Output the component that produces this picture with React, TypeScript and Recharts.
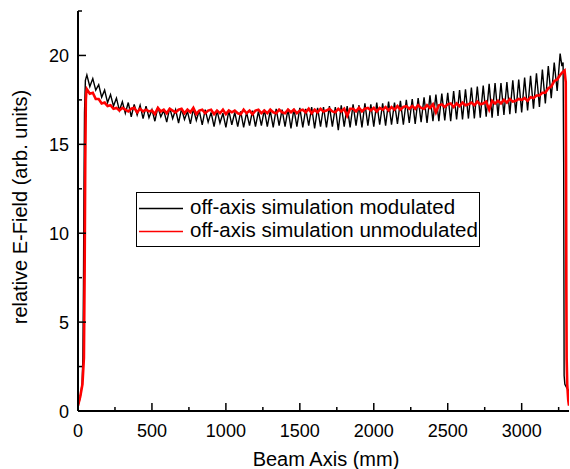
import React from "react";
import { LineChart, Line, XAxis, YAxis, Legend } from "recharts";

const FONT = '"Liberation Sans", Arial, sans-serif';

const MODULATED = "off-axis simulation modulated";
const UNMODULATED = "off-axis simulation unmodulated";
const seriesColor: Record<string, string> = { [MODULATED]: "#000000", [UNMODULATED]: "#ff0000" };

// axis ticks (minor every 250 mm / 2.5 units, labelled every 500 / 5)
const xTicks = [0, 250, 500, 750, 1000, 1250, 1500, 1750, 2000, 2250, 2500, 2750, 3000, 3250];
const yTicks = [0, 2.5, 5, 7.5, 10, 12.5, 15, 17.5, 20, 22.5];

// modulated structure: rising edge, body sampled every 20 mm from 60 mm, falling edge
const blackRiseX = [0, 10, 20, 28, 33, 37, 40, 44, 50];
const blackRise = [0.3, 0.6, 1.0, 1.6, 3.0, 7.0, 12.0, 16.8, 18.6];
const bodyStart = 60;
const bodyStep = 20;
const blackBody = [
  18.9, 18.25, 18.7, 18.05, 18.35, 17.65, 18.05, 17.35, 17.8, 17.15,
  17.6, 16.9, 17.4, 16.75, 17.35, 16.55, 17.25, 16.65, 17.2, 16.45,
  17.15, 16.5, 16.95, 16.3, 17.1, 16.55, 16.9, 16.25, 17.05, 16.45,
  16.95, 16.2, 17.0, 16.4, 16.85, 16.15, 17.0, 16.35, 16.9, 16.1,
  16.95, 16.25, 16.8, 16.0, 16.9, 16.2, 16.75, 15.95, 16.9, 16.1,
  16.8, 16.0, 16.85, 15.95, 16.8, 16.05, 16.9, 16.0, 16.85, 16.05,
  16.95, 16.0, 16.9, 15.95, 17.0, 16.05, 16.95, 16.0, 17.0, 15.9,
  17.0, 16.0, 17.05, 15.95, 17.0, 16.05, 17.1, 15.9, 17.05, 16.0,
  17.1, 15.95, 17.15, 16.0, 17.1, 15.8, 17.2, 16.0, 17.15, 15.95,
  17.25, 16.05, 17.2, 15.95, 17.3, 16.05, 17.25, 16.0, 17.35, 16.1,
  17.3, 16.05, 17.4, 16.1, 17.35, 16.15, 17.45, 16.1, 17.5, 16.2,
  17.55, 16.15, 17.6, 16.25, 17.65, 16.2, 17.75, 16.3, 17.8, 16.3,
  17.85, 16.35, 17.9, 16.3, 18.0, 16.4, 18.05, 16.4, 18.1, 16.45,
  18.2, 16.45, 18.25, 16.5, 18.3, 16.55, 18.4, 16.5, 18.45, 16.6,
  18.45, 16.65, 18.5, 16.7, 18.6, 16.75, 18.65, 16.8, 18.75, 16.9,
  18.85, 17.0, 19.0, 17.1, 19.2, 17.3, 19.4, 17.6, 19.6, 18.0,
  20.1,
];
const blackFallX = [3272, 3280, 3284, 3287, 3292, 3305, 3320];
const blackFall = [19.4, 19.6, 14.0, 2.0, 1.5, 1.3, 1.1];

// unmodulated structure
const redRiseX = [0, 15, 30, 40, 45, 49, 53, 56];
const redRise = [0.3, 0.8, 1.5, 3.0, 8.0, 14.0, 17.5, 17.9];
const redBody = [
  18.1, 17.85, 17.9, 17.55, 17.55, 17.3, 17.35, 17.15, 17.2, 17.0,
  17.05, 16.9, 17.05, 16.95, 16.85, 17.0, 17.05, 16.8, 17.0, 16.85,
  16.95, 16.85, 16.9, 16.7, 17.05, 16.85, 16.95, 16.75, 17.0, 16.9,
  16.8, 16.95, 17.0, 16.75, 16.95, 16.8, 17.05, 16.7, 16.9, 16.95,
  16.75, 16.9, 16.95, 16.7, 16.9, 16.75, 16.95, 16.7, 16.9, 16.8,
  16.9, 16.75, 16.7, 16.95, 16.75, 16.9, 16.7, 16.9, 16.95, 16.75,
  16.9, 16.75, 16.95, 16.8, 16.75, 16.95, 16.8, 16.75, 16.95, 16.8,
  16.95, 16.75, 16.9, 16.95, 16.8, 17.0, 16.75, 16.95, 16.8, 17.0,
  16.85, 16.9, 17.0, 16.85, 16.8, 17.0, 16.85, 17.0, 16.6, 17.0,
  17.0, 16.85, 17.05, 16.85, 17.0, 17.05, 16.9, 17.05, 16.85, 17.05,
  16.95, 17.1, 16.9, 17.1, 16.95, 17.15, 16.95, 17.1, 17.15, 17.0,
  17.15, 17.0, 17.2, 17.05, 17.0, 17.2, 17.05, 17.25, 16.8, 17.2,
  17.25, 17.1, 17.25, 17.3, 17.1, 17.3, 17.15, 17.35, 17.2, 17.25,
  17.35, 17.2, 17.4, 17.25, 17.3, 17.4, 16.95, 17.45, 17.3, 17.45,
  17.3, 17.5, 17.35, 17.55, 17.4, 17.45, 17.55, 17.5, 17.6, 17.45,
  17.65, 17.6, 17.75, 17.75, 17.9, 17.9, 18.15, 18.25, 18.55, 18.65,
  18.9,
];
const redFallX = [3275, 3290, 3298, 3300, 3302, 3304, 3308, 3315, 3320];
const redFall = [19.05, 19.15, 18.5, 14.0, 7.0, 3.0, 1.5, 0.6, 0.3];

const pts = (xs: number[], ys: number[]) => xs.map((x, i) => ({ x, y: ys[i] }));
const body = (ys: number[]) => ys.map((y, i) => ({ x: bodyStart + i * bodyStep, y }));

const modulated = [...pts(blackRiseX, blackRise), ...body(blackBody), ...pts(blackFallX, blackFall)];
const unmodulated = [...pts(redRiseX, redRise), ...body(redBody), ...pts(redFallX, redFall)];

const TW = 1.5;

function BottomTick(p: any) {
  const v = p.payload.value;
  const major = v % 500 === 0;
  const ay = p.y - 26;
  return (
    <g>
      <line x1={p.x} x2={p.x} y1={ay} y2={ay - (major ? 8 : 4)} stroke="#000" strokeWidth={TW} />
      {major && (
        <text x={p.x} y={p.y} textAnchor="middle" fontSize={18} fontFamily={FONT} fill="#000">
          {v}
        </text>
      )}
    </g>
  );
}

function TopTick(p: any) {
  const major = p.payload.value % 500 === 0;
  return <line x1={p.x} x2={p.x} y1={p.y} y2={p.y + (major ? 8 : 4)} stroke="#000" strokeWidth={TW} />;
}

function LeftTick(p: any) {
  const v = p.payload.value;
  const major = v % 5 === 0;
  const ax = p.x + 9;
  return (
    <g>
      <line x1={ax} x2={ax + (major ? 8 : 4)} y1={p.y} y2={p.y} stroke="#000" strokeWidth={TW} />
      {major && (
        <text x={p.x} y={p.y} dy={6.5} textAnchor="end" fontSize={18} fontFamily={FONT} fill="#000">
          {v}
        </text>
      )}
    </g>
  );
}

function RightTick(p: any) {
  const major = p.payload.value % 5 === 0;
  return <line x1={p.x} x2={p.x - (major ? 8 : 4)} y1={p.y} y2={p.y} stroke="#000" strokeWidth={TW} />;
}

function LegendBox({ payload }: any) {
  return (
    <div
      style={{
        position: "relative",
        width: 344,
        height: 55,
        boxSizing: "border-box",
        border: "1px solid #000",
        background: "#fff",
        fontFamily: FONT,
        fontSize: 20.5,
        color: "#000",
      }}
    >
      {(payload || []).map((e: any, i: number) => {
        const c = seriesColor[e.value] || e.color || (i ? "#ff0000" : "#000000");
        return (
          <div key={i} style={{ position: "absolute", left: 0, top: i === 0 ? 3 : 26, height: 22, width: 340 }}>
            <svg width={48} height={22} style={{ position: "absolute", left: 0, top: 0 }}>
              <line x1={2} x2={46} y1={12.5} y2={12.5} stroke={c} strokeWidth={1.5} />
            </svg>
            <div style={{ position: "absolute", left: 53, top: 0, lineHeight: "22px", whiteSpace: "nowrap" }}>
              {e.value}
            </div>
          </div>
        );
      })}
    </div>
  );
}

export default function App() {
  return (
    <div style={{ position: "absolute", left: 0, top: 0, width: 570, height: 469, background: "#fff" }}>
      <LineChart width={570} height={469} margin={{ top: 11, right: 1, left: 0, bottom: 0 }}>
        <XAxis
          xAxisId="bottom"
          dataKey="x"
          type="number"
          domain={[0, 3320]}
          ticks={xTicks}
          interval={0}
          allowDataOverflow
          height={58}
          tickSize={0}
          tickMargin={26}
          tick={(p: any) => <BottomTick {...p} />}
          axisLine={{ stroke: "#000", strokeWidth: 2 }}
          tickLine={false}
        />
        <XAxis
          xAxisId="top"
          orientation="top"
          dataKey="x"
          type="number"
          domain={[0, 3320]}
          ticks={xTicks}
          interval={0}
          allowDataOverflow
          height={0}
          tickSize={0}
          tickMargin={0}
          tick={(p: any) => <TopTick {...p} />}
          axisLine={{ stroke: "#000", strokeWidth: 2 }}
          tickLine={false}
        />
        <YAxis
          yAxisId="left"
          type="number"
          domain={[0, 22.5]}
          ticks={yTicks}
          interval={0}
          allowDataOverflow
          width={78}
          tickSize={0}
          tickMargin={9}
          tick={(p: any) => <LeftTick {...p} />}
          axisLine={{ stroke: "#000", strokeWidth: 2 }}
          tickLine={false}
        />
        <YAxis
          yAxisId="right"
          orientation="right"
          type="number"
          domain={[0, 22.5]}
          ticks={yTicks}
          interval={0}
          allowDataOverflow
          width={0}
          tickSize={0}
          tickMargin={0}
          tick={(p: any) => <RightTick {...p} />}
          axisLine={{ stroke: "#000", strokeWidth: 2 }}
          tickLine={false}
        />
        <Legend
          layout="vertical"
          align="center"
          verticalAlign="middle"
          content={(props: any) => <LegendBox {...props} />}
          wrapperStyle={{ position: "absolute", left: 136, top: 192, width: 344, height: 55 }}
        />
        <Line
          data={modulated}
          dataKey="y"
          xAxisId="bottom"
          yAxisId="left"
          type="linear"
          name={MODULATED}
          stroke={seriesColor[MODULATED]}
          strokeWidth={1.4}
          dot={false}
          isAnimationActive={false}
        />
        <Line
          data={unmodulated}
          dataKey="y"
          xAxisId="bottom"
          yAxisId="left"
          type="linear"
          name={UNMODULATED}
          stroke={seriesColor[UNMODULATED]}
          strokeWidth={2.6}
          dot={false}
          isAnimationActive={false}
        />
      </LineChart>
      <svg width={570} height={469} style={{ position: "absolute", left: 0, top: 0, pointerEvents: "none" }}>
        <text x={326} y={466} textAnchor="middle" fontSize={20} fontFamily={FONT} fill="#000">
          Beam Axis (mm)
        </text>
        <text transform="translate(27,207) rotate(-90)" textAnchor="middle" fontSize={20} fontFamily={FONT} fill="#000">
          relative E-Field (arb. units)
        </text>
      </svg>
    </div>
  );
}
